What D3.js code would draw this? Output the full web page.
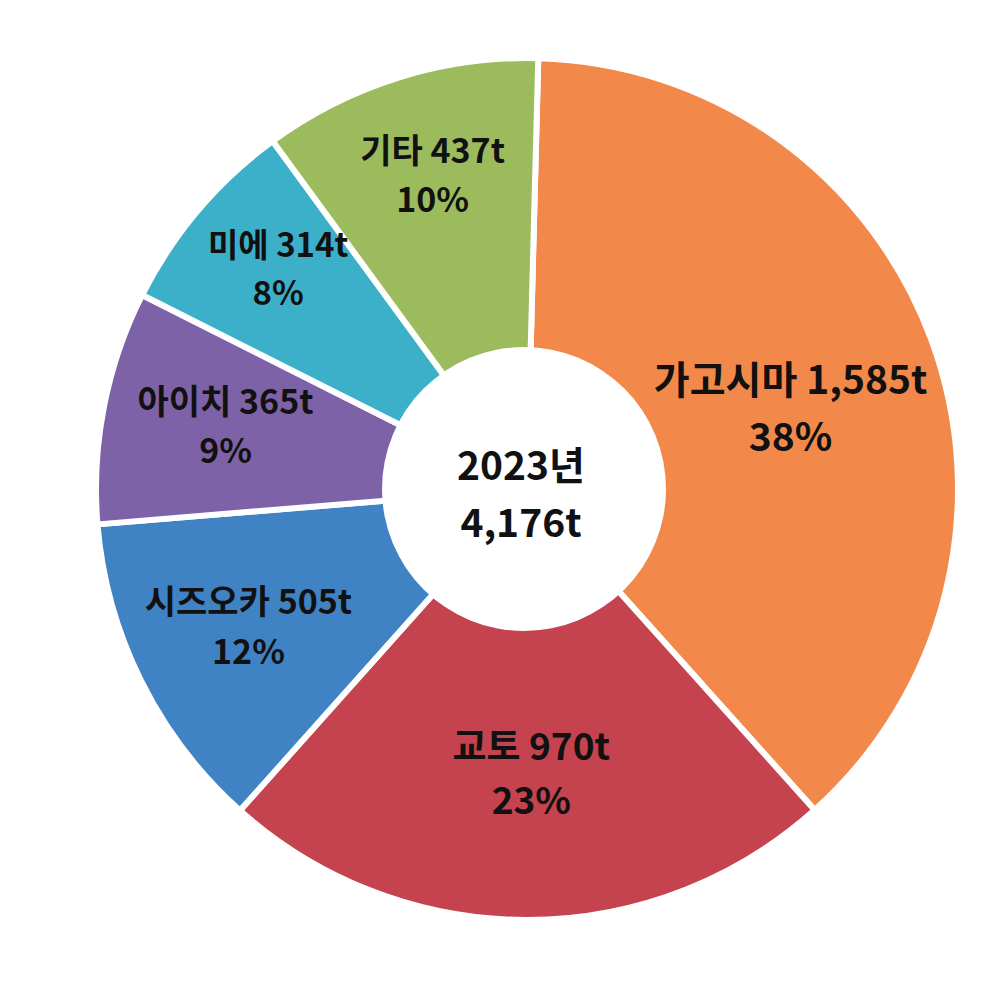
<!DOCTYPE html>
<html><head><meta charset="utf-8">
<script src="https://cdn.jsdelivr.net/npm/d3@7"></script>
<style>
html,body{margin:0;padding:0;background:#fff;}
text{font-family:"Noto Sans CJK KR","Noto Sans",sans-serif;}
</style></head>
<body>
<svg id="chart" width="1000" height="1000"></svg>
<script>
const regions = ["가고시마", "교토", "시즈오카", "아이치", "미에", "기타"];
const tonnes = [1585, 970, 505, 365, 314, 437];
const percents = ["38%", "23%", "12%", "9%", "8%", "10%"];
const centerYear = "2023년";
const centerTotal = "4,176t";

const colors = ["#F2894B", "#C4434F", "#3F83C4", "#7E62A7", "#3DB0C9", "#9CBB5D"];
const labelSizes = [39, 37, 34, 34, 33, 34];
// small label nudges (px) relative to arc centroid
const nudges = [[-18, 37], [4, -2], [-10, 16], [-7, 7], [-20, -14], [-5, -15]];

const svg = d3.select("#chart");
const cx = 527, cy = 489, R = 431, r0 = 142, labelR = 300;
const rot = 1.5 * Math.PI / 180;
const g = svg.append("g").attr("transform", `translate(${cx},${cy})`);

const data = regions.map((name, i) => ({name, value: tonnes[i], pct: percents[i], i}));
const pie = d3.pie().sort(null).value(d => d.value).startAngle(rot).endAngle(2 * Math.PI + rot);
const arcs = pie(data);
const arc = d3.arc().innerRadius(0).outerRadius(R);
const labelArc = d3.arc().innerRadius(labelR).outerRadius(labelR);

g.selectAll("path.slice").data(arcs).join("path")
  .attr("class", "slice")
  .attr("d", arc)
  .attr("fill", d => colors[d.data.i])
  .attr("stroke", "#fff")
  .attr("stroke-width", 6)
  .attr("stroke-linejoin", "round");

g.append("circle").attr("cx", -3).attr("r", r0).attr("fill", "#fff");

const fmt = d3.format(",");
const lab = g.selectAll("g.lab").data(arcs).join("g")
  .attr("class", "lab")
  .attr("transform", d => {
    const c = labelArc.centroid(d);
    const n = nudges[d.data.i];
    return `translate(${c[0] + n[0]},${c[1] + n[1]})`;
  });
lab.append("text")
  .attr("text-anchor", "middle")
  .attr("y", d => -labelSizes[d.data.i] * 0.73)
  .attr("font-size", d => labelSizes[d.data.i])
  .attr("font-weight", 700)
  .attr("fill", "#111")
  .text(d => `${d.data.name} ${fmt(d.data.value)}t`);
lab.append("text")
  .attr("text-anchor", "middle")
  .attr("y", d => labelSizes[d.data.i] * 0.73)
  .attr("font-size", d => labelSizes[d.data.i])
  .attr("font-weight", 700)
  .attr("fill", "#111")
  .text(d => d.data.pct);

g.append("text").attr("text-anchor", "middle").attr("x", -6).attr("y", -9)
  .attr("font-size", 39).attr("font-weight", 700).attr("fill", "#111").text(centerYear);
g.append("text").attr("text-anchor", "middle").attr("x", -6).attr("y", 48)
  .attr("font-size", 39).attr("font-weight", 700).attr("fill", "#111").text(centerTotal);
</script>
</body></html>
